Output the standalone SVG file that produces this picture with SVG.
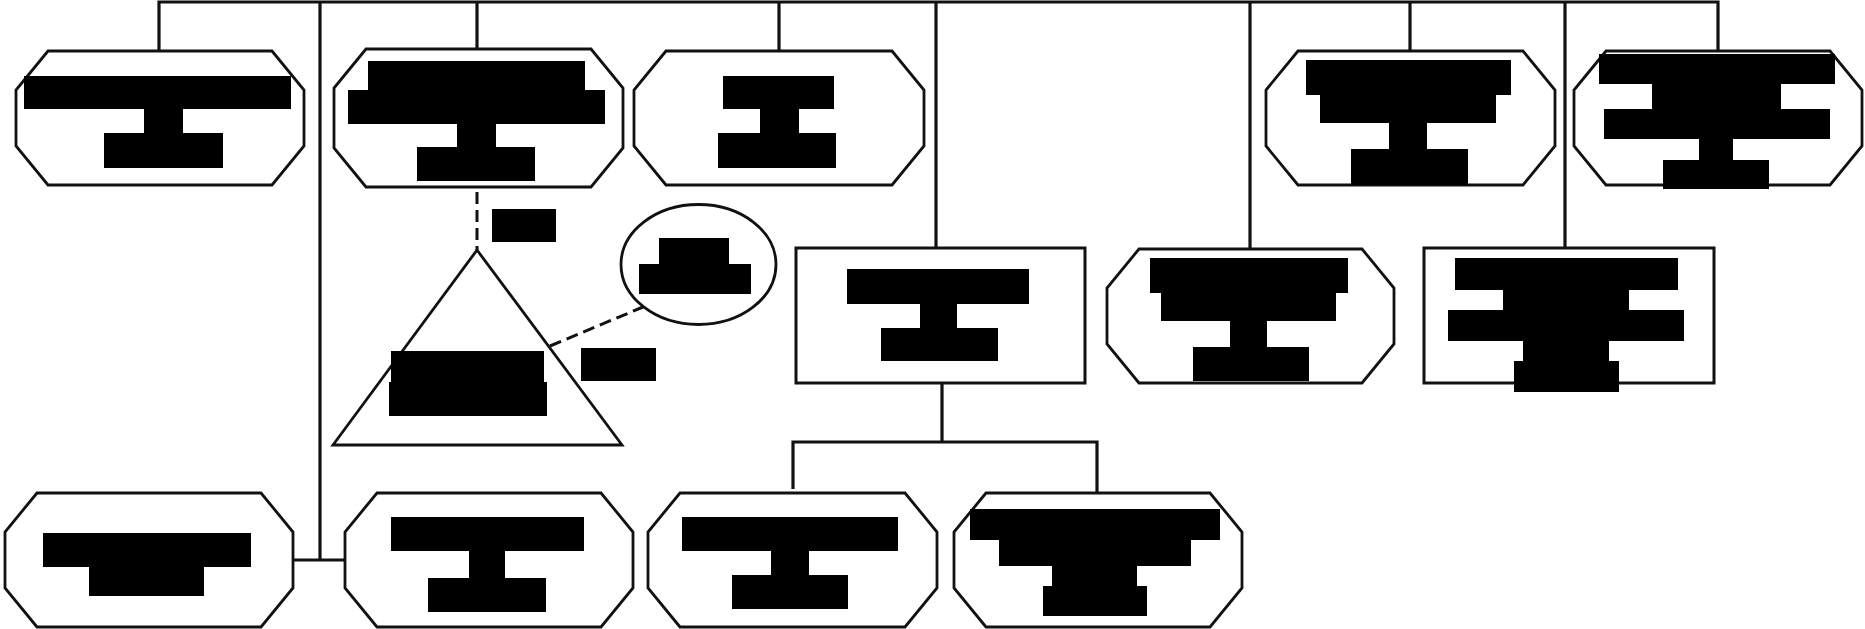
<svg xmlns="http://www.w3.org/2000/svg" width="1865" height="629" viewBox="0 0 1865 629">
<style>
.oct{fill:#fff;stroke:#111;stroke-width:2.8;stroke-linejoin:miter}
.box{fill:#fff;stroke:#111;stroke-width:3}
.shape{fill:#fff;stroke:#111;stroke-width:2.8}
.blk{fill:#000}
.con{fill:none;stroke:#111;stroke-width:3.2}
.dash{fill:none;stroke:#111;stroke-width:3;stroke-dasharray:12 6}
</style>
<rect x="0" y="0" width="1865" height="629" fill="#fff"/>
<g id="connectors">
<path class="con" d="M159,51 V2 H1718 V51"/>
<path class="con" d="M320,2 V560 M293,560 H345"/>
<path class="con" d="M477,2 V49"/>
<path class="con" d="M779,2 V51"/>
<path class="con" d="M936,2 V248"/>
<path class="con" d="M1250,2 V249"/>
<path class="con" d="M1410,2 V51"/>
<path class="con" d="M1565,2 V253"/>
<path class="con" d="M942,383 V442 M793,489 V442 H1097 V493"/>
<path class="dash" d="M477,192 V250"/>
<path class="dash" d="M550,346 L643,307"/>
<rect class="blk" x="492" y="209" width="64" height="33"/>
<rect class="blk" x="581" y="348" width="75" height="33"/>
</g>
<g id="nodeA">
<polygon class="oct" points="48,51 272,51 304,90 304,146 272,185 48,185 16,146 16,90"/>
<rect class="blk" x="24" y="76" width="267" height="33"/><rect class="blk" x="144" y="108" width="39" height="26"/><rect class="blk" x="104" y="133" width="119" height="35"/>
</g>
<g id="nodeB">
<polygon class="oct" points="366,49 591,49 623,88 623,148 591,187 366,187 334,148 334,88"/>
<rect class="blk" x="368" y="61" width="217" height="30"/><rect class="blk" x="348" y="90" width="257" height="34"/><rect class="blk" x="457" y="123" width="39" height="25"/><rect class="blk" x="417" y="147" width="118" height="34"/>
</g>
<g id="nodeC">
<polygon class="oct" points="666,51 892,51 924,90 924,146 892,185 666,185 634,146 634,90"/>
<rect class="blk" x="723" y="76" width="111" height="33"/><rect class="blk" x="760" y="108" width="39" height="26"/><rect class="blk" x="718" y="133" width="118" height="35"/>
</g>
<g id="nodeD">
<polygon class="oct" points="1298,51 1523,51 1555,90 1555,146 1523,185 1298,185 1266,146 1266,90"/>
<rect class="blk" x="1306" y="60" width="205" height="35"/><rect class="blk" x="1320" y="94" width="176" height="29"/><rect class="blk" x="1389" y="122" width="38" height="28"/><rect class="blk" x="1351" y="149" width="117" height="36"/>
</g>
<g id="nodeE">
<polygon class="oct" points="1606,51 1830,51 1862,90 1862,146 1830,185 1606,185 1574,146 1574,90"/>
<rect class="blk" x="1599" y="54" width="236" height="30"/><rect class="blk" x="1652" y="83" width="129" height="27"/><rect class="blk" x="1604" y="109" width="226" height="30"/><rect class="blk" x="1699" y="138" width="34" height="23"/><rect class="blk" x="1663" y="160" width="106" height="29"/>
</g>
<g id="nodeTriangle">
<path class="shape" d="M477,250 L333,445 L622,445 Z"/>
<rect class="blk" x="391" y="351" width="153" height="32"/><rect class="blk" x="389" y="382" width="158" height="34"/>
</g>
<g id="nodeEllipse">
<ellipse class="shape" cx="698.5" cy="264.5" rx="77.5" ry="60"/>
<rect class="blk" x="659" y="238" width="70" height="27"/><rect class="blk" x="639" y="264" width="112" height="30"/>
</g>
<g id="nodeMidRect">
<rect class="box" x="796" y="248" width="289" height="135"/>
<rect class="blk" x="847" y="269" width="182" height="35"/><rect class="blk" x="920" y="303" width="37" height="26"/><rect class="blk" x="881" y="328" width="117" height="33"/>
</g>
<g id="nodeMidOct">
<polygon class="oct" points="1139,249 1362,249 1394,288 1394,344 1362,383 1139,383 1107,344 1107,288"/>
<rect class="blk" x="1150" y="258" width="198" height="35"/><rect class="blk" x="1161" y="292" width="175" height="29"/><rect class="blk" x="1230" y="320" width="37" height="28"/><rect class="blk" x="1193" y="347" width="116" height="34"/>
</g>
<g id="nodeRightRect">
<rect class="box" x="1424" y="248" width="290" height="135"/>
<rect class="blk" x="1455" y="258" width="223" height="32"/><rect class="blk" x="1503" y="289" width="126" height="22"/><rect class="blk" x="1448" y="310" width="236" height="31"/><rect class="blk" x="1523" y="340" width="86" height="22"/><rect class="blk" x="1514" y="361" width="105" height="31"/>
</g>
<g id="nodeF">
<polygon class="oct" points="37,493 261,493 293,532 293,588 261,627 37,627 5,588 5,532"/>
<rect class="blk" x="43" y="533" width="208" height="34"/><rect class="blk" x="89" y="566" width="115" height="30"/>
</g>
<g id="nodeG">
<polygon class="oct" points="377,493 601,493 633,532 633,588 601,627 377,627 345,588 345,532"/>
<rect class="blk" x="391" y="517" width="193" height="34"/><rect class="blk" x="469" y="550" width="36" height="29"/><rect class="blk" x="428" y="578" width="118" height="34"/>
</g>
<g id="nodeH">
<polygon class="oct" points="680,493 905,493 937,532 937,588 905,627 680,627 648,588 648,532"/>
<rect class="blk" x="682" y="517" width="216" height="34"/><rect class="blk" x="771" y="550" width="38" height="26"/><rect class="blk" x="732" y="575" width="116" height="34"/>
</g>
<g id="nodeI">
<polygon class="oct" points="986,493 1210,493 1242,532 1242,588 1210,627 986,627 954,588 954,532"/>
<rect class="blk" x="970" y="509" width="250" height="31"/><rect class="blk" x="999" y="539" width="192" height="27"/><rect class="blk" x="1052" y="565" width="85" height="22"/><rect class="blk" x="1043" y="586" width="104" height="30"/>
</g>
</svg>
